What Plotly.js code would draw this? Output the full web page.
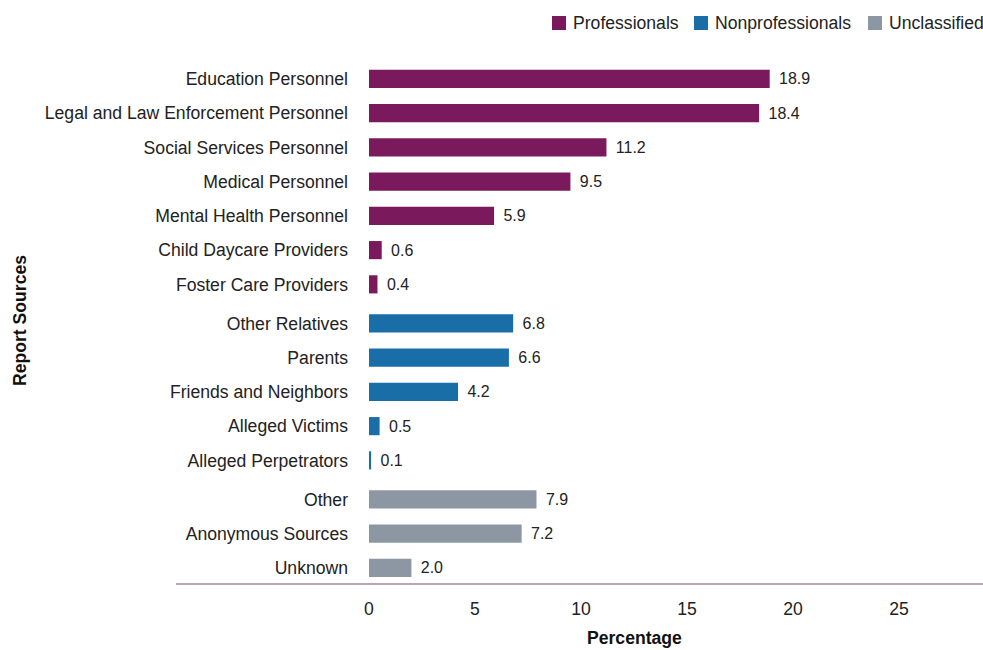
<!DOCTYPE html>
<html>
<head>
<meta charset="utf-8">
<script src="https://cdn.plot.ly/plotly-3.0.1.min.js"></script>
<style>html,body{margin:0;padding:0;background:#fff;}#chart{width:983px;height:650px;}</style>
</head>
<body>
<div id="chart"></div>
<script>
var groupNames = ["Professionals", "Nonprofessionals", "Unclassified"];
var groupColors = ["#7a1a5d", "#1a6ea8", "#8c97a3"];
var professionalsLabels = ["Education Personnel", "Legal and Law Enforcement Personnel", "Social Services Personnel", "Medical Personnel", "Mental Health Personnel", "Child Daycare Providers", "Foster Care Providers"];
var professionalsValues = [18.9, 18.4, 11.2, 9.5, 5.9, 0.6, 0.4];
var nonprofessionalsLabels = ["Other Relatives", "Parents", "Friends and Neighbors", "Alleged Victims", "Alleged Perpetrators"];
var nonprofessionalsValues = [6.8, 6.6, 4.2, 0.5, 0.1];
var unclassifiedLabels = ["Other", "Anonymous Sources", "Unknown"];
var unclassifiedValues = [7.9, 7.2, 2.0];
var xTicks = [0, 5, 10, 15, 20, 25];

var FONT = 'Liberation Sans, Arial, Helvetica, sans-serif';
var FS = 17.6;
var groups = [
  {labels: professionalsLabels, values: professionalsValues},
  {labels: nonprofessionalsLabels, values: nonprofessionalsValues},
  {labels: unclassifiedLabels, values: unclassifiedValues}
];
var GAP = 0.14;
var traces = [], tickvals = [], ticktext = [];
var idx = 0;
groups.forEach(function(g, gi){
  var ys = [];
  g.labels.forEach(function(l){
    var p = idx + gi*GAP;
    ys.push(p); tickvals.push(p); ticktext.push(l); idx++;
  });
  traces.push({
    type: 'bar', orientation: 'h', name: groupNames[gi],
    x: g.values, y: ys,
    marker: {color: groupColors[gi]},
    width: 0.53,
    text: g.values.map(function(v){return '\u2009\u2009' + v.toFixed(1);}),
    textposition: 'outside',
    textfont: {family: FONT, size: FS, color: '#222'},
    cliponaxis: false,
    showlegend: false,
    hoverinfo: 'x+y'
  });
});
var lastPos = tickvals[tickvals.length-1];

// plot area geometry (pixels) for placing the custom legend
var PL = 369, PW = 614, PB = 584, PH = 526;
function px(x){ return (x - PL) / PW; }
function py(y){ return (PB - y) / PH; }
var legendSquares = [552, 694, 868];
var shapes = [{type: 'line', xref: 'paper', yref: 'paper', x0: px(176), x1: 1, y0: 0, y1: 0,
               line: {color: '#bfa3b3', width: 2}}];
var annotations = [
  {text: '<b>Percentage</b>', xref: 'x', yref: 'paper', x: 12.5, y: py(638), yanchor: 'middle',
   showarrow: false, font: {family: FONT, size: FS, color: '#111'}},
  {text: '<b>Report Sources</b>', xref: 'paper', yref: 'paper', x: px(20), y: 0.5,
   xanchor: 'center', yanchor: 'middle', textangle: -90, showarrow: false,
   font: {family: FONT, size: FS, color: '#111'}}
];
groupNames.forEach(function(n, i){
  var sx = legendSquares[i];
  shapes.push({type: 'rect', xref: 'paper', yref: 'paper', x0: px(sx), x1: px(sx + 14),
               y0: py(30), y1: py(16), fillcolor: groupColors[i], line: {width: 0}});
  annotations.push({text: n, xref: 'paper', yref: 'paper', x: px(sx + 19), y: py(23),
                    xanchor: 'left', yanchor: 'middle', showarrow: false,
                    font: {family: FONT, size: FS, color: '#222'}});
});

var layout = {
  width: 983, height: 650,
  margin: {l: PL, r: 0, t: 58, b: 66},
  paper_bgcolor: '#fff', plot_bgcolor: '#fff',
  font: {family: FONT, size: FS, color: '#222'},
  showlegend: false,
  xaxis: {range: [0, 28.96], tickvals: xTicks, showgrid: false, zeroline: false,
          showline: false, ticks: '', ticklabelstandoff: 12, fixedrange: true},
  yaxis: {range: [lastPos + 0.47, -0.61], tickvals: tickvals, ticktext: ticktext,
          showgrid: false, zeroline: false, showline: false, ticks: '',
          ticklabelstandoff: 20, fixedrange: true},
  shapes: shapes,
  annotations: annotations
};
Plotly.newPlot('chart', traces, layout, {displayModeBar: false, staticPlot: true});
</script>
</body>
</html>
